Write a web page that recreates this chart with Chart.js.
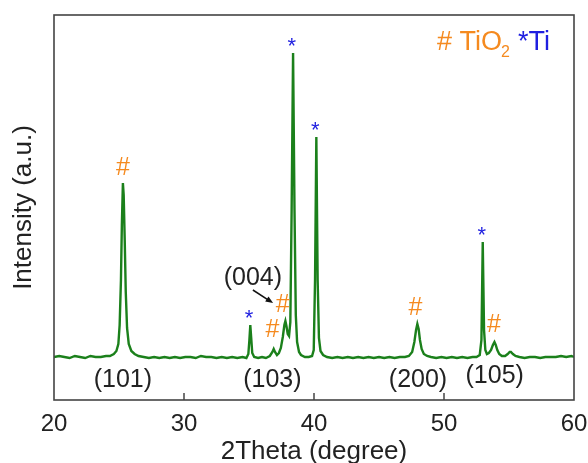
<!DOCTYPE html>
<html>
<head>
<meta charset="utf-8">
<script src="https://cdn.jsdelivr.net/npm/chart.js@4.4.1/dist/chart.umd.min.js"></script>
<style>
  html, body { margin: 0; padding: 0; background: #fff; }
  #wrap { width: 588px; height: 463px; }
</style>
</head>
<body>
<div id="wrap"><canvas id="xrd" width="588" height="463"></canvas></div>
<script>
// XRD pattern: [2theta, intensity (a.u.)]
const xrdPattern = [
  [20.0, 43], [20.4, 44], [20.8, 43], [21.2, 42], [21.6, 44], [22.0, 43], [22.4, 42], [22.8, 44],
  [23.2, 43], [23.6, 43], [24.0, 44], [24.3, 44], [24.6, 46], [24.8, 49], [24.95, 56], [25.05, 75],
  [25.15, 120], [25.22, 175], [25.3, 217], [25.36, 205], [25.44, 160], [25.52, 108], [25.62, 72],
  [25.75, 56], [25.95, 49], [26.2, 46], [26.5, 44], [26.9, 43], [27.3, 42], [27.7, 43], [28.1, 42],
  [28.5, 43], [28.9, 42], [29.3, 43], [29.7, 42], [30.1, 43], [30.5, 43], [30.9, 42], [31.3, 44],
  [31.7, 43], [32.1, 43], [32.5, 42], [32.9, 43], [33.3, 42], [33.7, 43], [34.1, 42], [34.5, 43],
  [34.8, 42], [34.95, 46], [35.03, 60], [35.1, 75], [35.17, 62], [35.25, 47], [35.4, 43], [35.7, 42],
  [36.0, 43], [36.3, 42], [36.6, 44], [36.8, 48], [36.9, 51], [37.0, 48], [37.15, 45], [37.3, 47],
  [37.45, 52], [37.6, 63], [37.72, 75], [37.8, 79], [37.88, 74], [37.98, 66], [38.08, 64], [38.18, 78],
  [38.28, 190], [38.39, 347], [38.5, 190], [38.6, 85], [38.7, 58],
  [38.85, 48], [39.0, 45], [39.3, 43], [39.6, 43], [39.85, 44], [39.98, 50], [40.08, 120],
  [40.18, 263], [40.28, 120], [40.38, 62], [40.5, 49], [40.7, 45], [41.0, 43], [41.4, 42],
  [41.8, 43], [42.2, 42], [42.6, 43], [43.0, 42], [43.4, 43], [43.8, 42], [44.2, 43], [44.6, 42],
  [45.0, 43], [45.4, 42], [45.8, 43], [46.2, 42], [46.6, 43], [47.0, 43], [47.3, 44], [47.55, 48],
  [47.72, 58], [47.85, 70], [47.95, 76], [48.05, 71], [48.15, 60], [48.28, 51], [48.45, 46], [48.7, 44],
  [49.0, 43], [49.4, 42], [49.8, 43], [50.2, 42], [50.6, 43], [51.0, 42], [51.4, 43], [51.8, 42],
  [52.2, 43], [52.5, 43], [52.75, 45], [52.88, 60], [52.98, 158], [53.08, 70],
  [53.18, 50], [53.3, 46], [53.45, 47], [53.62, 50], [53.76, 55], [53.88, 58],
  [53.98, 55], [54.1, 50], [54.25, 46], [54.45, 44], [54.7, 44], [54.9, 46], [55.05, 48], [55.15, 48],
  [55.3, 46], [55.5, 44], [55.8, 43], [56.2, 42], [56.6, 43], [57.0, 43], [57.4, 42], [57.8, 43],
  [58.2, 43], [58.6, 43], [59.0, 44], [59.4, 43], [59.8, 44], [60.0, 43]
];

const xTicks = [20, 30, 40, 50, 60];

// peak markers: # = TiO2, * = Ti  (x in degrees, y in intensity units)
const tio2Marks = [[25.3, 232], [36.8, 70], [37.6, 95], [47.8, 92], [53.85, 75]];
const tiMarks = [[35.0, 81], [38.3, 353], [40.1, 269], [52.9, 164]];

// Miller indices under the peaks
const hklLabels = [
  ["(101)", 25.3, 20], ["(103)", 36.8, 20], ["(200)", 48.0, 20], ["(105)", 53.9, 24], ["(004)", 35.3, 122]
];
const arrow004 = [[35.3, 110], [36.85, 97]];

const ORANGE = "#f58a1f";
const BLUE = "#1f1fe0";
const GREEN = "#1b801b";
const FONT = "Arial, 'Liberation Sans', sans-serif";

const annotate = {
  id: "annotate",
  afterDatasetsDraw(chart) {
    const { ctx, chartArea: a, scales: { x, y } } = chart;
    ctx.save();

    // inward ticks
    ctx.strokeStyle = "#444";
    ctx.lineWidth = 1.5;
    xTicks.slice(1, -1).forEach(t => {
      const px = x.getPixelForValue(t);
      ctx.beginPath();
      ctx.moveTo(px, a.bottom);
      ctx.lineTo(px, a.bottom - 7);
      ctx.stroke();
    });

    ctx.textAlign = "center";
    ctx.textBaseline = "middle";

    ctx.fillStyle = ORANGE;
    ctx.font = "25px " + FONT;
    tio2Marks.forEach(([vx, vy]) => ctx.fillText("#", x.getPixelForValue(vx), y.getPixelForValue(vy)));

    ctx.fillStyle = BLUE;
    ctx.font = "22px " + FONT;
    tiMarks.forEach(([vx, vy]) => ctx.fillText("*", x.getPixelForValue(vx), y.getPixelForValue(vy)));

    ctx.fillStyle = "#222";
    ctx.font = "25px " + FONT;
    hklLabels.forEach(([txt, vx, vy]) => ctx.fillText(txt, x.getPixelForValue(vx), y.getPixelForValue(vy)));

    // arrow for (004)
    const x0 = x.getPixelForValue(arrow004[0][0]), y0 = y.getPixelForValue(arrow004[0][1]);
    const x1 = x.getPixelForValue(arrow004[1][0]), y1 = y.getPixelForValue(arrow004[1][1]);
    const ang = Math.atan2(y1 - y0, x1 - x0);
    ctx.strokeStyle = "#111";
    ctx.fillStyle = "#111";
    ctx.lineWidth = 1.5;
    ctx.beginPath();
    ctx.moveTo(x0, y0);
    ctx.lineTo(x1 - 5 * Math.cos(ang), y1 - 5 * Math.sin(ang));
    ctx.stroke();
    ctx.beginPath();
    ctx.moveTo(x1, y1);
    ctx.lineTo(x1 - 8 * Math.cos(ang - 0.4), y1 - 8 * Math.sin(ang - 0.4));
    ctx.lineTo(x1 - 8 * Math.cos(ang + 0.4), y1 - 8 * Math.sin(ang + 0.4));
    ctx.closePath();
    ctx.fill();

    // legend "# TiO2 *Ti"
    ctx.textAlign = "left";
    ctx.textBaseline = "alphabetic";
    let lx = a.right - 137;
    const ly = a.top + 35;
    ctx.font = "27px " + FONT;
    ctx.fillStyle = ORANGE;
    ctx.fillText("# TiO", lx, ly);
    lx += ctx.measureText("# TiO").width;
    ctx.font = "16px " + FONT;
    ctx.fillText("2", lx - 1, ly + 7);
    lx += ctx.measureText("2").width + 7;
    ctx.font = "27px " + FONT;
    ctx.fillStyle = BLUE;
    ctx.fillText("*Ti", lx, ly);

    // frame
    ctx.strokeStyle = "#444";
    ctx.lineWidth = 1.6;
    ctx.strokeRect(a.left, a.top, a.right - a.left, a.bottom - a.top);
    ctx.restore();
  }
};

new Chart(document.getElementById("xrd"), {
  type: "line",
  data: {
    datasets: [{
      data: xrdPattern.map(p => ({ x: p[0], y: p[1] })),
      borderColor: GREEN,
      borderWidth: 2.4,
      pointRadius: 0,
      tension: 0
    }]
  },
  options: {
    responsive: false,
    animation: false,
    layout: { padding: { top: 15, right: 14, bottom: -4, left: 8 } },
    plugins: { legend: { display: false }, tooltip: { enabled: false } },
    scales: {
      x: {
        type: "linear",
        min: 20,
        max: 60,
        afterBuildTicks: s => { s.ticks = xTicks.map(v => ({ value: v })); },
        afterFit: s => { s.height = 67; s.paddingLeft = 0; s.paddingRight = 0; },
        grid: { display: false, drawTicks: false },
        border: { display: false },
        ticks: { color: "#222", padding: 10, font: { family: FONT, size: 24 }, maxRotation: 0 },
        title: { display: true, text: "2Theta (degree)", color: "#222", padding: 0, font: { family: FONT, size: 26 } }
      },
      y: {
        min: 0,
        max: 385,
        afterFit: s => { s.width = 46; },
        grid: { display: false, drawTicks: false },
        border: { display: false },
        ticks: { display: false },
        title: { display: true, text: "Intensity (a.u.)", color: "#222", padding: 0, font: { family: FONT, size: 26 } }
      }
    }
  },
  plugins: [annotate]
});
</script>
</body>
</html>
